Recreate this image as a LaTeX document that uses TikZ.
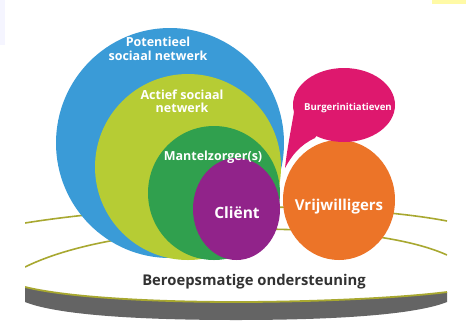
\documentclass[tikz,border=0pt]{standalone}
\usepackage{fontspec}
\setmainfont{Open Sans}
\definecolor{cblue}{RGB}{58,155,215}
\definecolor{clgreen}{RGB}{182,204,52}
\definecolor{cdgreen}{RGB}{48,160,78}
\definecolor{cpurple}{RGB}{145,35,138}
\definecolor{corange}{RGB}{236,116,40}
\definecolor{cpink}{RGB}{222,24,110}
\definecolor{colive}{RGB}{168,168,48}
\definecolor{cgray}{RGB}{100,100,100}
\definecolor{ctext}{RGB}{50,50,50}
\begin{document}
\begin{tikzpicture}[x=1pt,y=-1pt,
  lbl/.style={text=white, font=\bfseries, align=center, inner sep=0pt},
  ringline/.style={draw=colive, line width=1.6pt}]
\useasboundingbox (0,0) rectangle (466,333);
\fill[white] (0,0) rectangle (466,333);
\fill[blue!4] (0,0) rectangle (5,45);
\fill[yellow!35] (432,0) rectangle (466,4);
% rings behind the circles
\begin{scope}
\clip (25,0) rectangle (447,333);
\draw[ringline] (25,223) .. controls (100,211) and (180,207) .. (250,207) .. controls (330,207) and (400,212) .. (447,221);
\draw[ringline] (25,267) .. controls (80,240) and (170,229) .. (250,229) .. controls (330,229) and (405,236) .. (447,255);
\end{scope}
% nested circles
\fill[cblue] (170,143) ellipse [x radius=114pt, y radius=115pt];
\fill[clgreen] (188,167) ellipse [x radius=93pt, y radius=93pt];
\fill[cdgreen] (214,193) ellipse [x radius=66pt, y radius=67pt];
\fill[cpurple] (236.5,209) ellipse [x radius=43.5pt, y radius=51pt];
\fill[corange] (339,200) ellipse [x radius=56pt, y radius=60pt];
% speech bubble
\fill[cpink] (344,105) ellipse [x radius=51pt, y radius=37pt];
\fill[cpink] (294,112) .. controls (290,135) and (287,150) .. (285,168)
  .. controls (292,155) and (300,145) .. (315,138) -- (330,115) -- cycle;
% platform
\begin{scope}
\clip (25,0) rectangle (447,333);
\fill[cgray] (25,287) .. controls (70,298) and (160,302) .. (236,302) .. controls (312,302) and (400,298) .. (447,292)
  -- (447,302) .. controls (412,316) and (322,320) .. (236,320) .. controls (150,320) and (60,316) .. (25,302) -- cycle;
\draw[colive, line width=1.8pt] (25,287) .. controls (70,298) and (160,302) .. (236,302) .. controls (312,302) and (400,298) .. (447,292);
\end{scope}
% labels
\node[lbl, font=\bfseries\fontsize{12.5}{14}\selectfont] (tpot) at (158,49) {Potentieel\\sociaal netwerk};
\node[lbl, font=\bfseries\fontsize{12.5}{13}\selectfont] (tact) at (182,101) {Actief sociaal\\netwerk};
\node[lbl, font=\bfseries\fontsize{12.5}{14}\selectfont] (tman) at (213,157) {Mantelzorger(s)};
\node[lbl, font=\bfseries\fontsize{15.5}{17}\selectfont] (tcli) at (237,213) {Cliënt};
\node[lbl, font=\bfseries\fontsize{15}{17}\selectfont] (tvri) at (339,207) {Vrijwilligers};
\node[lbl, font=\bfseries\fontsize{9.6}{11}\selectfont] (tbur) at (348,108) {Burgerinitiatieven};
\node[lbl, text=ctext, font=\bfseries\fontsize{14.8}{16}\selectfont] (tber) at (254,282) {Beroepsmatige ondersteuning};
\end{tikzpicture}
\end{document}
